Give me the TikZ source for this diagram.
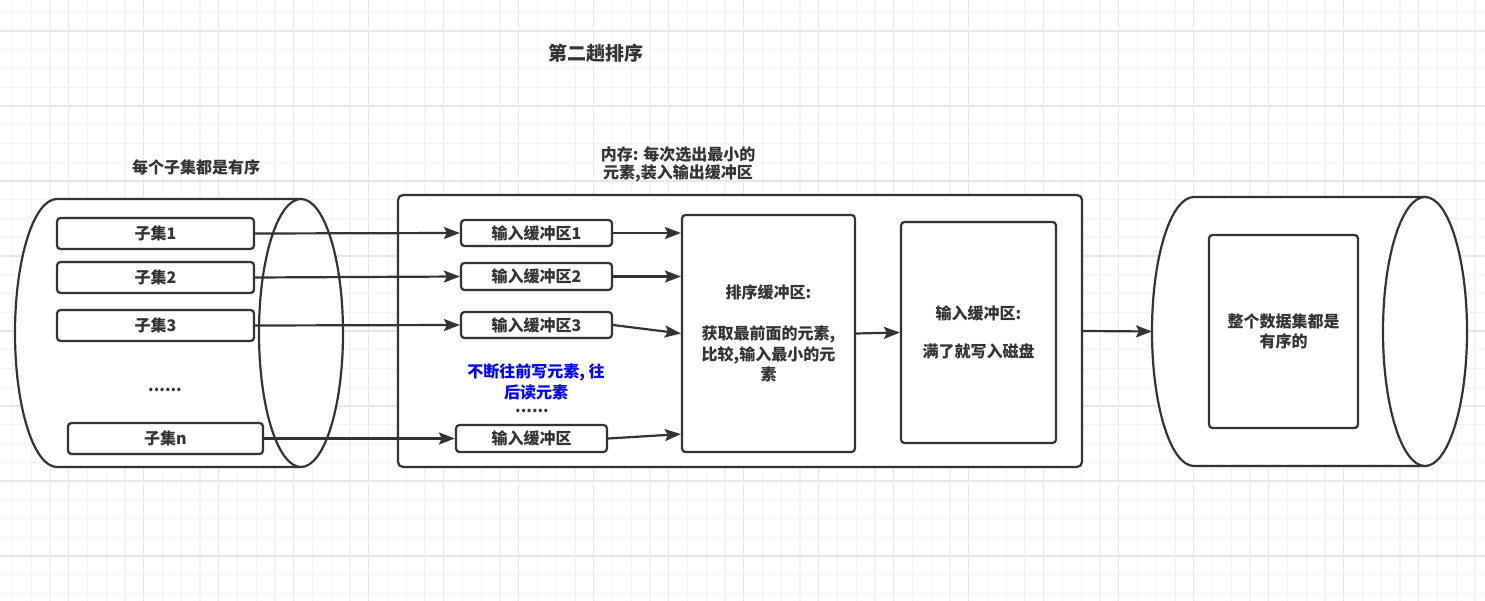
\documentclass[tikz,border=0pt]{standalone}
\usepackage{fontspec}
\setmainfont{Noto Sans CJK SC}
\usetikzlibrary{arrows.meta,calc}
\definecolor{ink}{HTML}{333333}
\definecolor{gridminor}{HTML}{F3F3F3}
\definecolor{gridmajor}{HTML}{E7E7E7}
\begin{document}
\begin{tikzpicture}[x=1pt,y=-1pt,
  every node/.style={font=\fontsize{16}{20.5}\selectfont\bfseries, text=ink},
  shapeline/.style={draw=ink, line width=2.2pt},
  box/.style={shapeline, fill=white, rounded corners=3.5pt, inner sep=0pt, align=center},
  flow/.style={draw=ink, line width=2.2pt, -{Stealth[length=16pt,width=12pt,inset=3pt]}},
  label/.style={align=center, inner sep=0pt},
]
\useasboundingbox (0,0) rectangle (1485,601);
\fill[white] (0,0) rectangle (1485,601);
% background grid
\foreach \i in {0,...,78} {
  \pgfmathtruncatemacro{\m}{mod(\i,4)}
  \ifnum\m=3 \def\gc{gridmajor}\else\def\gc{gridminor}\fi
  \draw[\gc, line width=1.2pt] ({12.45+\i*18.75},0) -- ({12.45+\i*18.75},601);
}
\foreach \j in {0,...,31} {
  \pgfmathtruncatemacro{\m}{mod(\j,4)}
  \ifnum\m=1 \def\gc{gridmajor}\else\def\gc{gridminor}\fi
  \draw[\gc, line width=1.2pt] (0,{12.3+\j*18.75}) -- (1485,{12.3+\j*18.75});
}

% titles
\node[label, font=\fontsize{19}{22}\selectfont\bfseries] (title) at (595.5,53) {第二趟排序};
\node[label] (srclabel) at (196,167) {每个子集都是有序};
\node[label, font=\fontsize{16}{18}\selectfont\bfseries] (memlabel) at (678,164) {内存: 每次选出最小的\\元素,装入输出缓冲区};

% source cylinder
\fill[white] (301,199) -- (57,199) arc[start angle=90,end angle=270,x radius=42pt,y radius=134pt] -- (301,467) -- cycle;
\draw[shapeline] (301,199) -- (57,199) arc[start angle=90,end angle=270,x radius=42pt,y radius=134pt] -- (301,467);
\filldraw[shapeline, fill=white] (301,333) ellipse [x radius=42pt, y radius=134pt];

\node[box, minimum width=197pt, minimum height=31pt] (s1) at (155.5,233.5) {子集1};
\node[box, minimum width=197pt, minimum height=31pt] (s2) at (155.5,277.5) {子集2};
\node[box, minimum width=197pt, minimum height=31pt] (s3) at (155.5,325.5) {子集3};
\node[label] (sdots) at (165,390) {......};
\node[box, minimum width=195pt, minimum height=31pt] (sn) at (165.5,438.5) {子集n};

% memory
\node[box, rounded corners=5pt, minimum width=684pt, minimum height=272pt] (mem) at (740,331) {};
\node[box, minimum width=151pt, minimum height=26pt] (b1) at (536.5,233) {输入缓冲区1};
\node[box, minimum width=151pt, minimum height=27pt] (b2) at (536.5,276.5) {输入缓冲区2};
\node[box, minimum width=151pt, minimum height=26pt] (b3) at (536.5,325) {输入缓冲区3};
\node[label, text=blue] (note) at (536,382) {不断往前写元素, 往\\后读元素};
\node[label] (bdots) at (532,411) {......};
\node[box, minimum width=151pt, minimum height=27pt] (bn) at (531.5,438.5) {输入缓冲区};
\node[box, minimum width=173pt, minimum height=237pt] (sort) at (768.5,333.5)
  {排序缓冲区:\\[20.5pt]获取最前面的元素,\\比较,输入最小的元\\素};
\node[box, minimum width=155pt, minimum height=221pt] (out) at (978.5,332.5)
  {输入缓冲区:\\[18pt]满了就写入磁盘};

% target cylinder
\fill[white] (1425,197) -- (1194,197) arc[start angle=90,end angle=270,x radius=42pt,y radius=134.5pt] -- (1425,466) -- cycle;
\draw[shapeline] (1425,197) -- (1194,197) arc[start angle=90,end angle=270,x radius=42pt,y radius=134.5pt] -- (1425,466);
\filldraw[shapeline, fill=white] (1425,331.5) ellipse [x radius=42pt, y radius=134.5pt];
\coordinate (disk) at (1152,331.5);
\node[box, minimum width=149pt, minimum height=193pt] (all) at (1283.5,331.5) {整个数据集都是\\有序的};

% connectors
\draw[flow] (s1.east) -- (b1.west);
\draw[flow] (s2.east) -- (b2.west);
\draw[flow] (s3.east) -- (b3.west);
\draw[flow] (sn.east) -- (bn.west);
\draw[flow] (b1.east) -- (sort.west |- b1.east);
\draw[flow] (b2.east) -- (sort.west |- b2.east);
\draw[flow] (b3.east) -- (sort.west);
\draw[flow] (bn.east) -- ([yshift=19pt]sort.south west);
\draw[flow] (sort.east) -- (out.west);
\draw[flow] (mem.east) -- (disk);
\end{tikzpicture}
\end{document}
